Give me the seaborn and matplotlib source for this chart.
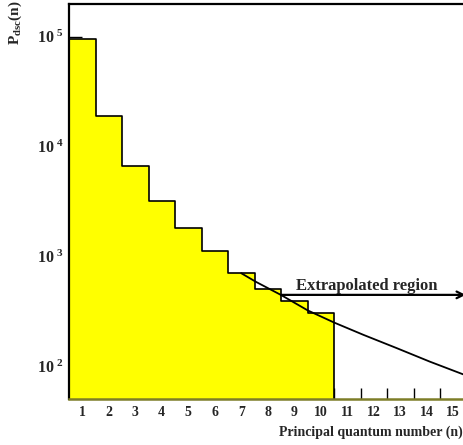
import matplotlib

matplotlib.use("Agg")

import matplotlib.pyplot as plt
import numpy as np
import pandas as pd
import seaborn as sns
from matplotlib.ticker import FixedLocator, NullLocator


# bin values (n = 1..10)
n_levels = [1, 2, 3, 4, 5, 6, 7, 8, 9, 10]
p_dsc = [9.5e4, 1.89e4, 6.7e3, 3.19e3, 1.81e3, 1.12e3, 702, 505, 395, 303]

# extrapolation curve, points
curve_n = [7.0, 7.56, 8.5, 9.51, 10.5, 11.61, 12.87, 14.12, 15.45]
curve_p = [702, 585, 445, 322, 250, 193, 146, 110, 83]

x_ticks = list(range(1, 16))
y_ticks = [1e2, 1e3, 1e4, 1e5]
y_tick_labels = [r"$10^{\ 2}$", r"$10^{\ 3}$", r"$10^{\ 4}$", r"$10^{\ 5}$"]


def set_theme() -> None:
    sns.set_theme(style="ticks")
    plt.rcParams.update(
        {
            "font.family": ["Liberation Serif", "DejaVu Serif"],
            "font.weight": "bold",
            "mathtext.fontset": "custom",
            "mathtext.rm": "Liberation Serif:bold",
            "mathtext.it": "Liberation Serif:bold",
            "mathtext.bf": "Liberation Serif:bold",
            "figure.facecolor": "white",
            "axes.facecolor": "white",
        }
    )


def main() -> None:
    set_theme()
    df = pd.DataFrame({"n": n_levels, "p": p_dsc})
    curve = pd.DataFrame({"n": curve_n, "p": curve_p})

    fig = plt.figure(figsize=(4.64, 4.45), dpi=100)
    ax = fig.add_axes([69 / 464, 1 - 399.3 / 445, 397.5 / 464, 395.8 / 445])
    ax.set_yscale("log")

    sns.histplot(
        data=df, x="n", weights="p", discrete=True,
        element="step", fill=True, color="#FFFF00", alpha=1.0,
        edgecolor="black", linewidth=1.2, ax=ax,
    )
    sns.lineplot(data=curve, x="n", y="p", color="black", linewidth=1.3, ax=ax)

    ax.annotate(
        "", xy=(15.47, 446), xytext=(8.5, 446),
        arrowprops=dict(arrowstyle="->", color="black", lw=1.6, shrinkA=0, shrinkB=0),
    )
    ax.text(11.72, 494, "Extrapolated region", ha="center", va="baseline",
            fontsize=12, fontweight="bold")

    ax.set_xlim(0.5, 15.5)
    ax.set_ylim(50, 2e5)
    ax.set_axisbelow(True)

    ax.xaxis.set_major_locator(FixedLocator(x_ticks))
    ax.xaxis.set_minor_locator(FixedLocator(np.arange(1.5, 16, 1.0)))
    ax.tick_params(axis="x", which="major", length=0, pad=5, labelsize=10)
    ax.tick_params(axis="x", which="minor", direction="in", length=8, width=1, color="black")
    ax.set_yticks(y_ticks)
    ax.set_yticklabels(y_tick_labels)
    ax.yaxis.set_minor_locator(NullLocator())
    ax.tick_params(axis="y", which="major", direction="in", length=9, width=1,
                   labelsize=11.5, color="black", pad=4)

    for side in ["left", "top", "right"]:
        ax.spines[side].set_color("black")
        ax.spines[side].set_linewidth(1.6)
    ax.spines["bottom"].set_color("#7d7d28")
    ax.spines["bottom"].set_linewidth(1.8)

    ax.set_xlabel("Principal quantum number (n)", fontsize=10, fontweight="bold", loc="right")
    ax.xaxis.set_label_coords(0.991, -0.067)
    ax.set_ylabel(r"$\mathrm{P}_{\mathrm{dsc}}(\mathrm{n})$", fontsize=11)
    ax.yaxis.set_label_coords(-0.113, 0.951)

    fig.savefig("out.png", dpi=100, facecolor="white")
    plt.close(fig)


if __name__ == "__main__":
    main()
